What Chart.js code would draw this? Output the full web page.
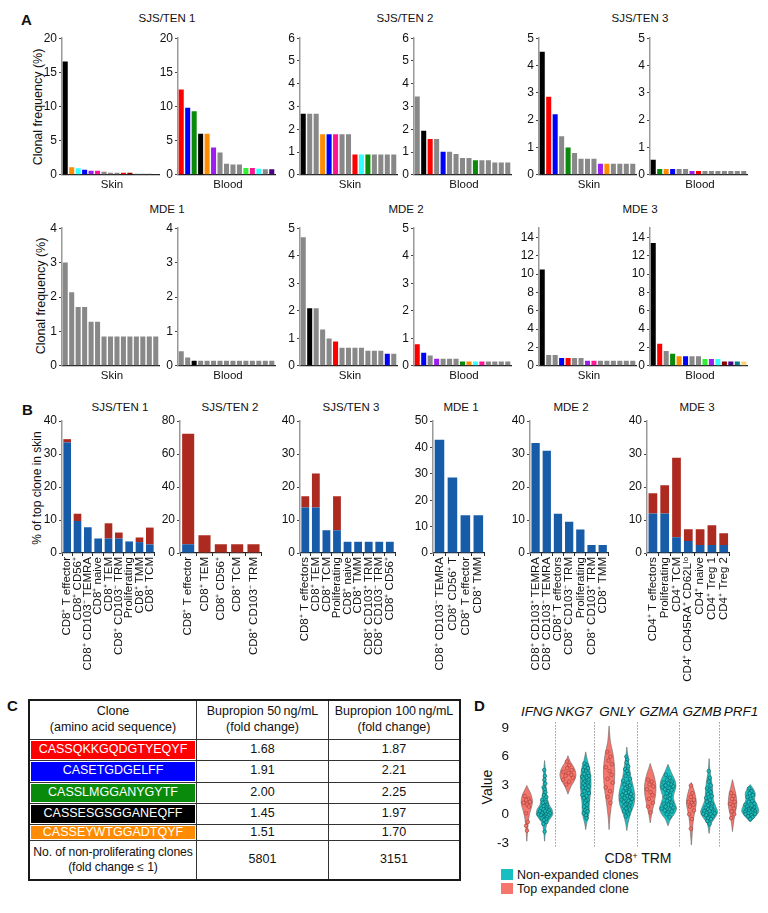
<!DOCTYPE html>
<html lang="en">
<head>
<meta charset="utf-8">
<title>Clonal expansion figure</title>
<script src="https://cdn.jsdelivr.net/npm/chart.js@4.4.1/dist/chart.umd.min.js"></script>
<style>
  html, body { margin: 0; padding: 0; background: #fff; }
  body { position: relative; width: 768px; height: 913px; overflow: hidden;
         font-family: "Liberation Sans", Arial, Helvetica, sans-serif; color: #111; }
  canvas { position: absolute; }
  .lbl { position: absolute; white-space: nowrap; transform: translate(-50%, -50%); font-size: 11.5px; line-height: 1; }
  .rot { transform: translate(-50%, -50%) rotate(-90deg); }
  .letter { position: absolute; font-weight: bold; font-size: 15px; line-height: 1; }
  .gene { font-style: italic; font-size: 13.5px; }
  sup { font-size: 0.62em; vertical-align: 0.5em; line-height: 0; }
  #tbl { position: absolute; left: 28px; top: 699px; width: 433px; border-collapse: collapse;
         border: 2px solid #1a1a1a; font-size: 12.5px; table-layout: fixed; }
  #tbl td { border: 1px solid #333; text-align: center; padding: 0; line-height: 1.25; white-space: nowrap; }
  #tbl td.seq { padding: 1px; }
  #tbl td.seq div { color: #fff; display: flex; align-items: center; justify-content: center; }
  .box { position: absolute; width: 12px; height: 11px; }
</style>
</head>
<body>
<div class="letter" style="left:21px;top:12px">A</div>
<div class="letter" style="left:22px;top:402px">B</div>
<div class="letter" style="left:7px;top:698px">C</div>
<div class="letter" style="left:474px;top:698px">D</div>

<div class="lbl" style="left:167px;top:19px">SJS/TEN 1</div>
<div class="lbl" style="left:405px;top:19px">SJS/TEN 2</div>
<div class="lbl" style="left:640px;top:19px">SJS/TEN 3</div>
<div class="lbl" style="left:167px;top:210px">MDE 1</div>
<div class="lbl" style="left:406px;top:210px">MDE 2</div>
<div class="lbl" style="left:640px;top:210px">MDE 3</div>

<div class="lbl rot" style="left:38px;top:107px;font-size:12.5px">Clonal frequency (%)</div>
<div class="lbl rot" style="left:41px;top:296px;font-size:12.5px">Clonal frequency (%)</div>
<div class="lbl rot" style="left:37px;top:488px;font-size:12px">% of top clone in skin</div>

<div class="lbl" style="left:120px;top:408px">SJS/TEN 1</div>
<div class="lbl" style="left:230px;top:408px">SJS/TEN 2</div>
<div class="lbl" style="left:351px;top:408px">SJS/TEN 3</div>
<div class="lbl" style="left:461px;top:408px">MDE 1</div>
<div class="lbl" style="left:571px;top:408px">MDE 2</div>
<div class="lbl" style="left:697px;top:408px">MDE 3</div>

<div class="lbl gene" style="left:537px;top:712px">IFNG</div>
<div class="lbl gene" style="left:574px;top:712px">NKG7</div>
<div class="lbl gene" style="left:617px;top:712px">GNLY</div>
<div class="lbl gene" style="left:659px;top:712px">GZMA</div>
<div class="lbl gene" style="left:702px;top:712px">GZMB</div>
<div class="lbl gene" style="left:741px;top:712px">PRF1</div>
<div class="lbl rot" style="left:487px;top:787px;font-size:14px">Value</div>
<div class="lbl" style="left:638px;top:858px;font-size:14px">CD8<sup>+</sup> TRM</div>
<div class="box" style="left:501px;top:869px;background:#19bfc0"></div>
<div class="lbl" style="left:517px;top:875px;font-size:12.5px;transform:translate(0,-50%)">Non-expanded clones</div>
<div class="box" style="left:501px;top:883px;background:#f4766d"></div>
<div class="lbl" style="left:517px;top:889px;font-size:12.5px;transform:translate(0,-50%)">Top expanded clone</div>

<table id="tbl"></table>

<script>
// ---- panel A: clonal frequency (%) by clone rank, skin and blood ----
const sjs1Skin = [16.6, 1.1, 0.95, 0.75, 0.6, 0.6, 0.45, 0.3, 0.3, 0.3, 0.3, 0.15, 0.15, 0.15, 0.1];
const sjs1SkinIds = ['K', 'O', 'C', 'B', 'P', 'M', 'G', 'G', 'G', 'R', 'D', 'G', 'G', 'G', 'N'];
const sjs1Blood = [12.5, 9.8, 9.3, 6.0, 6.0, 4.0, 3.25, 1.6, 1.5, 1.5, 1.0, 1.0, 0.9, 0.8, 0.8];
const sjs1BloodIds = ['R', 'B', 'N', 'K', 'O', 'P', 'G', 'G', 'G', 'G', 'L', 'M', 'C', 'G', 'I'];
const sjs2Skin = [2.68, 2.68, 2.68, 1.78, 1.78, 1.78, 1.78, 1.78, 0.89, 0.89, 0.89, 0.89, 0.89, 0.89, 0.89];
const sjs2SkinIds = ['K', 'G', 'G', 'O', 'B', 'M', 'G', 'G', 'R', 'C', 'N', 'G', 'G', 'G', 'G'];
const sjs2Blood = [3.44, 1.94, 1.57, 1.57, 1.01, 1.01, 0.91, 0.74, 0.74, 0.64, 0.64, 0.64, 0.54, 0.54, 0.54];
const sjs2BloodIds = ['G', 'K', 'R', 'G', 'B', 'G', 'G', 'G', 'G', 'N', 'G', 'G', 'G', 'G', 'G'];
const sjs3Skin = [4.5, 2.86, 2.22, 1.41, 1.0, 0.8, 0.59, 0.59, 0.59, 0.4, 0.4, 0.4, 0.4, 0.4, 0.4];
const sjs3SkinIds = ['K', 'R', 'B', 'G', 'N', 'G', 'G', 'G', 'G', 'P', 'O', 'G', 'G', 'G', 'G'];
const sjs3Blood = [0.55, 0.21, 0.21, 0.21, 0.21, 0.21, 0.14, 0.14, 0.14, 0.14, 0.14, 0.14, 0.14, 0.14, 0.14];
const sjs3BloodIds = ['K', 'N', 'O', 'B', 'G', 'G', 'P', 'R', 'G', 'G', 'G', 'G', 'G', 'G', 'G'];
const mde1Skin = [3.0, 2.14, 1.71, 1.71, 1.28, 1.28, 0.85, 0.85, 0.85, 0.85, 0.85, 0.85, 0.85, 0.85, 0.85];
const mde1SkinIds = ['G', 'G', 'G', 'G', 'G', 'G', 'G', 'G', 'G', 'G', 'G', 'G', 'G', 'G', 'G'];
const mde1Blood = [0.42, 0.24, 0.15, 0.15, 0.15, 0.15, 0.15, 0.15, 0.15, 0.15, 0.15, 0.15, 0.15, 0.15, 0.15];
const mde1BloodIds = ['G', 'G', 'K', 'G', 'G', 'G', 'G', 'G', 'G', 'G', 'G', 'G', 'G', 'G', 'G'];
const mde2Skin = [4.67, 2.09, 2.09, 1.32, 0.99, 0.88, 0.66, 0.66, 0.66, 0.66, 0.55, 0.55, 0.55, 0.44, 0.44];
const mde2SkinIds = ['G', 'K', 'G', 'G', 'G', 'R', 'G', 'G', 'G', 'G', 'G', 'G', 'G', 'B', 'G'];
const mde2Blood = [0.78, 0.47, 0.37, 0.26, 0.26, 0.26, 0.26, 0.16, 0.16, 0.16, 0.16, 0.16, 0.16, 0.16, 0.16];
const mde2BloodIds = ['R', 'B', 'G', 'P', 'G', 'G', 'G', 'N', 'O', 'C', 'M', 'G', 'G', 'G', 'G'];
const mde3Skin = [10.5, 1.17, 1.17, 0.84, 0.84, 0.84, 0.84, 0.55, 0.55, 0.55, 0.55, 0.55, 0.55, 0.55, 0.55];
const mde3SkinIds = ['K', 'G', 'G', 'B', 'R', 'G', 'G', 'P', 'M', 'G', 'G', 'G', 'G', 'G', 'G'];
const mde3Blood = [13.4, 2.4, 1.6, 1.3, 1.03, 1.03, 1.03, 1.03, 0.73, 0.73, 0.73, 0.48, 0.48, 0.48, 0.48];
const mde3BloodIds = ['K', 'R', 'G', 'N', 'O', 'B', 'G', 'G', 'L', 'P', 'C', 'D', 'I', 'T', 'Y'];

// tick labels
const ticks20 = [0, 5, 10, 15, 20];
const ticks6 = [0, 1, 2, 3, 4, 5, 6];
const ticks5 = [0, 1, 2, 3, 4, 5];
const ticks4 = [0, 1, 2, 3, 4];
const ticks14 = [0, 2, 4, 6, 8, 10, 12, 14];
const ticks40 = [0, 10, 20, 30, 40];
const ticks80 = [0, 20, 40, 60, 80];
const ticks50 = [0, 10, 20, 30, 40, 50];
const ticksValue = [-3, 0, 3, 6, 9];

// ---- panel B: share of top skin clone by cell subset (two stacked parts) ----
const b1Labels = ['CD8⁺ T effector', 'CD8⁺ CD56⁺', 'CD8⁺ CD103⁻ TEMRA', 'CD8⁺ naive', 'CD8⁺ TEM', 'CD8⁺ CD103⁻ TRM', 'Proliferating', 'CD8⁺ TMM', 'CD8⁺ TCM'];
const b1Blue = [33.5, 9.7, 7.8, 4.4, 4.4, 4.4, 3.5, 3.3, 2.6];
const b1Red = [1.0, 2.2, 0, 0, 4.6, 1.8, 0, 1.4, 5.1];
const b2Labels = ['CD8⁺ T effector', 'CD8⁺ TEM', 'CD8⁺ CD56⁺', 'CD8⁺ TCM', 'CD8⁺ CD103⁻ TRM'];
const b2Blue = [5.3, 0, 0, 0, 0];
const b2Red = [67.0, 10.7, 5.3, 5.3, 5.3];
const b3Labels = ['CD8⁺ T effectors', 'CD8⁺ TEM', 'CD8⁺ TCM', 'Proliferating', 'CD8⁺ naive', 'CD8⁺ TMM', 'CD8⁺ CD103⁺ TRM', 'CD8⁺ CD103⁻ TRM', 'CD8⁺ CD56⁺'];
const b3Blue = [13.8, 13.8, 6.9, 6.9, 3.4, 3.4, 3.4, 3.4, 3.4];
const b3Red = [3.4, 10.3, 0, 10.3, 0, 0, 0, 0, 0];
const b4Labels = ['CD8⁺ CD103⁻ TEMRA', 'CD8⁺ CD56⁺ T', 'CD8⁺ T effector', 'CD8⁺ TMM'];
const b4Blue = [42.9, 28.6, 14.3, 14.3];
const b4Red = [0, 0, 0, 0];
const b5Labels = ['CD8⁺ CD103⁺ TEMRA', 'CD8⁺ CD103⁻ TEMRA', 'CD8⁺ T effectors', 'CD8⁺ CD103⁻ TRM', 'Proliferating', 'CD8⁺ CD103⁺ TRM', 'CD8⁺ TMM'];
const b5Blue = [33.3, 31.0, 11.9, 9.5, 7.1, 2.4, 2.4];
const b5Red = [0, 0, 0, 0, 0, 0, 0];
const b6Labels = ['CD4⁺ T effectors', 'Proliferating', 'CD4⁺ TCM', 'CD4⁺ CD45RA⁺ CD62Lˡᵒ', 'CD4⁺ naive', 'CD4⁺ Treg 1', 'CD4⁺ Treg 2'];
const b6Blue = [12.0, 12.0, 4.8, 3.6, 2.4, 2.4, 2.4];
const b6Red = [6.1, 8.5, 24.1, 3.6, 4.8, 6.0, 3.6];

// ---- panel C: table ----
const cloneSeqs = ['CASSQKKGQDGTYEQYF', 'CASETGDGELFF', 'CASSLMGGANYGYTF', 'CASSESGSGGANEQFF', 'CASSEYWTGGADTQYF'];
const cloneSeqIds = ['R', 'B', 'N', 'K', 'O'];
const fold50 = ['1.68', '1.91', '2.00', '1.45', '1.51'];
const fold100 = ['1.87', '2.21', '2.25', '1.97', '1.70'];
const nonProlif = ['5801', '3151'];

// ---- panel D: violin outlines [value, half width] and cell values ----
const genes = ['IFNG', 'NKG7', 'GNLY', 'GZMA', 'GZMB', 'PRF1'];
const violinTop = [
  [[-2.8, 0], [-2, 0.03], [-1, 0.07], [0, 0.15], [0.7, 0.26], [1.3, 0.32], [2, 0.25], [2.6, 0.1], [3.0, 0]],
  [[2.1, 0], [2.5, 0.08], [3, 0.2], [3.5, 0.36], [4, 0.45], [4.5, 0.42], [5, 0.3], [5.5, 0.13], [6.1, 0]],
  [[-1.6, 0], [-0.5, 0.04], [0.5, 0.1], [1.5, 0.17], [2.5, 0.25], [3.5, 0.3], [4.5, 0.32], [5.5, 0.28], [6.5, 0.2], [7.5, 0.08], [8.5, 0.03], [9.2, 0]],
  [[-0.9, 0], [0, 0.08], [1, 0.2], [2, 0.3], [3, 0.32], [4, 0.22], [4.8, 0.08], [5.3, 0]],
  [[-3.2, 0], [-2.5, 0.03], [-1.5, 0.07], [-0.5, 0.12], [0.5, 0.22], [1.2, 0.28], [2, 0.22], [2.8, 0.1], [3.3, 0]],
  [[-1.8, 0], [-1, 0.05], [0, 0.14], [1, 0.24], [2, 0.2], [2.8, 0.1], [3.6, 0]]
];
const violinRest = [
  [[-2.8, 0], [-2, 0.04], [-1, 0.12], [-0.5, 0.3], [0, 0.46], [0.5, 0.42], [1, 0.26], [2, 0.12], [3, 0.08], [4, 0.06], [5, 0.03], [5.6, 0]],
  [[-1.6, 0], [-1, 0.05], [0, 0.18], [0.5, 0.2], [1, 0.2], [2, 0.26], [3, 0.3], [3.5, 0.3], [4, 0.28], [5, 0.2], [5.6, 0.1], [6.5, 0]],
  [[-1.7, 0], [-1, 0.06], [0, 0.2], [1, 0.4], [2, 0.45], [3, 0.35], [4, 0.22], [5, 0.14], [6, 0.06], [7, 0]],
  [[-1.2, 0], [-0.5, 0.15], [0, 0.35], [0.6, 0.48], [1.2, 0.38], [1.8, 0.3], [2.5, 0.4], [3, 0.45], [3.6, 0.38], [4.3, 0.2], [5.2, 0]],
  [[-2, 0], [-1, 0.1], [-0.3, 0.35], [0.2, 0.48], [0.8, 0.38], [1.5, 0.24], [2.5, 0.2], [3.5, 0.14], [4.5, 0.05], [5.8, 0]],
  [[-0.8, 0], [-0.3, 0.25], [0.3, 0.48], [0.9, 0.4], [1.5, 0.25], [2.2, 0.28], [2.8, 0.12], [3.1, 0]]
];
const cellsTop = [
  [1.9, 1.6, 1.5, 1.3, 1.2, 1.0, 0.8, 0.1, -0.8, -1.2, -1.7],
  [5.5, 5.1, 4.8, 4.6, 4.4, 4.3, 4.1, 4.0, 3.8, 3.6, 3.4, 3.1],
  [6.5, 6.0, 5.6, 5.2, 4.9, 4.5, 4.1, 3.7, 3.3, 2.8, 2.4, 1.8, 1.2],
  [3.6, 3.4, 3.1, 2.9, 2.6, 2.3, 2.0, 1.6, 1.2, 0.8, 0.2],
  [3.0, 2.2, 1.8, 1.5, 1.3, 1.2, 1.0, 0.8, 0.4, 0.0, -0.5, -1.5],
  [2.2, 1.9, 1.6, 1.3, 1.1, 0.9, 0.6, 0.3, 0.0, -0.4]
];
const cellsRest = [
  [4.6, 4.0, 3.6, 3.2, 2.8, 2.6, 2.3, 2.0, 1.8, 1.5, 1.3, 1.2, 1.0, 0.9, 0.8, 0.7, 0.6, 0.5, 0.5, 0.4, 0.3, 0.3, 0.2, 0.1, 0.1, 0.0, 0.0, -0.1, -0.1, -0.2, -0.3, -0.3, -0.4, -0.5, -0.6, -0.8, -1.0, -1.8],
  [5.3, 5.1, 4.9, 4.8, 4.6, 4.5, 4.3, 4.2, 4.0, 3.9, 3.8, 3.7, 3.6, 3.5, 3.4, 3.3, 3.2, 3.1, 3.0, 2.9, 2.8, 2.7, 2.5, 2.4, 2.2, 2.0, 1.9, 1.7, 1.5, 1.4, 1.2, 1.0, 0.8, 0.6, 0.4, 0.3, 0.1, -0.1, -0.4],
  [6.0, 5.7, 5.4, 5.0, 4.7, 4.5, 4.2, 4.0, 3.7, 3.5, 3.3, 3.1, 3.0, 2.8, 2.7, 2.5, 2.4, 2.3, 2.2, 2.1, 2.0, 1.9, 1.8, 1.7, 1.6, 1.5, 1.4, 1.3, 1.2, 1.1, 1.0, 0.9, 0.8, 0.7, 0.6, 0.5, 0.3, 0.2, 0.0, -0.2],
  [4.1, 3.8, 3.6, 3.4, 3.3, 3.2, 3.1, 3.0, 2.9, 2.8, 2.7, 2.6, 2.5, 2.4, 2.2, 2.0, 1.8, 1.6, 1.4, 1.2, 1.1, 1.0, 0.9, 0.8, 0.7, 0.6, 0.5, 0.4, 0.3, 0.2, 0.0, -0.3],
  [4.5, 3.8, 3.4, 3.0, 2.7, 2.5, 2.3, 2.1, 1.9, 1.7, 1.5, 1.3, 1.1, 1.0, 0.9, 0.8, 0.7, 0.6, 0.5, 0.4, 0.35, 0.3, 0.2, 0.15, 0.1, 0.05, 0.0, -0.1, -0.2, -0.3, -0.4, -0.5, -0.7, -1.0],
  [2.7, 2.4, 2.2, 2.0, 1.8, 1.6, 1.4, 1.3, 1.1, 1.0, 0.9, 0.8, 0.7, 0.6, 0.55, 0.5, 0.45, 0.4, 0.35, 0.3, 0.25, 0.2, 0.15, 0.1, 0.05, 0.0, -0.1, -0.2, -0.3, -0.5]
];

const palette = {
  K: '#000000', R: '#ff0000', B: '#0000ff', N: '#0a8a0a', O: '#ff8c00', C: '#33ffff', P: '#9a1ef0',
  M: '#ff1493', G: '#888888', D: '#8b0000', I: '#4b0082', L: '#33ee33', T: '#008080', Y: '#ffd27a'
};
const BLUE = '#175ca8';
const RED = '#ad2a20';

Chart.defaults.font.family = '"Liberation Sans", Arial, Helvetica, sans-serif';
Chart.defaults.color = '#111';
Chart.defaults.animation = false;
Chart.defaults.plugins.legend.display = false;
Chart.defaults.plugins.tooltip.enabled = false;

function addCanvas(left, top, w, h) {
  const c = document.createElement('canvas');
  c.width = w;
  c.height = h;
  c.style.left = left + 'px';
  c.style.top = top + 'px';
  c.style.width = w + 'px';
  c.style.height = h + 'px';
  document.body.appendChild(c);
  return c;
}

function fixedTicks(list) {
  return function (scale) {
    scale.ticks = list.map(function (v) { return { value: v }; });
  };
}

// tick label height/2 + tick padding decides the space Chart.js keeps above and below the plot
function cloneChart(axisX, topY, zeroY, values, ids, max, ticks, name) {
  const yW = 24, plotW = 97, pad = 9;
  const c = addCanvas(axisX - yW, topY - pad, yW + plotW + 2, pad + (zeroY - topY) + pad);
  new Chart(c, {
    type: 'bar',
    data: {
      labels: values.map(function (v, i) { return String(i + 1); }),
      datasets: [{
        data: values,
        backgroundColor: ids.map(function (k) { return palette[k]; }),
        barPercentage: 0.78,
        categoryPercentage: 1
      }]
    },
    options: {
      responsive: false,
      layout: { padding: { top: pad, bottom: pad - 1, left: 0, right: 2 } },
      scales: {
        x: {
          ticks: { display: false },
          grid: { display: false },
          border: { color: '#222', width: 1.2 },
          afterFit: function (s) { s.height = 1; }
        },
        y: {
          min: 0, max: max,
          ticks: { font: { size: 12 }, padding: 2, color: '#111' },
          grid: { drawOnChartArea: false, tickLength: 3, color: '#444' },
          border: { color: '#999', width: 1.5 },
          afterFit: function (s) { s.width = yW; },
          afterBuildTicks: fixedTicks(ticks)
        }
      }
    }
  });
  const t = document.createElement('div');
  t.className = 'lbl';
  t.style.left = (axisX + 50) + 'px';
  t.style.top = (zeroY + 10) + 'px';
  t.textContent = name;
  document.body.appendChild(t);
}

function subsetChart(axisX, plotW, labels, blue, red, max, ticks) {
  const yW = 26, topY = 421, zeroY = 553, xH = 170, pad = 10;
  const c = addCanvas(axisX - yW, topY - pad, yW + plotW + 7, pad + (zeroY - topY) + xH);
  new Chart(c, {
    type: 'bar',
    data: {
      labels: labels,
      datasets: [
        { data: blue, backgroundColor: BLUE, barPercentage: 0.74, categoryPercentage: 1 },
        { data: red, backgroundColor: RED, barPercentage: 0.74, categoryPercentage: 1 }
      ]
    },
    options: {
      responsive: false,
      layout: { padding: { top: pad, bottom: 0, left: 0, right: 7 } },
      scales: {
        x: {
          stacked: true,
          ticks: { minRotation: 90, maxRotation: 90, autoSkip: false, font: { size: 11.5 }, padding: 1, color: '#111' },
          grid: { drawOnChartArea: false, tickLength: 3, color: '#222' },
          border: { color: '#222', width: 1.2 },
          afterFit: function (s) { s.height = xH; }
        },
        y: {
          stacked: true,
          min: 0, max: max,
          ticks: { font: { size: 12 }, padding: 2, color: '#111' },
          grid: { drawOnChartArea: false, tickLength: 3, color: '#444' },
          border: { color: '#999', width: 1.5 },
          afterFit: function (s) { s.width = yW; },
          afterBuildTicks: fixedTicks(ticks)
        }
      }
    }
  });
}

// panel A, first row (SJS/TEN) and second row (MDE)
cloneChart(62, 38, 175, sjs1Skin, sjs1SkinIds, 20, ticks20, 'Skin');
cloneChart(178, 38, 175, sjs1Blood, sjs1BloodIds, 20, ticks20, 'Blood');
cloneChart(300, 38, 175, sjs2Skin, sjs2SkinIds, 6, ticks6, 'Skin');
cloneChart(414, 38, 175, sjs2Blood, sjs2BloodIds, 6, ticks6, 'Blood');
cloneChart(539, 38, 175, sjs3Skin, sjs3SkinIds, 5, ticks5, 'Skin');
cloneChart(650, 38, 175, sjs3Blood, sjs3BloodIds, 5, ticks5, 'Blood');
cloneChart(62, 228, 366, mde1Skin, mde1SkinIds, 4, ticks4, 'Skin');
cloneChart(178, 228, 366, mde1Blood, mde1BloodIds, 4, ticks4, 'Blood');
cloneChart(300, 228, 366, mde2Skin, mde2SkinIds, 5, ticks5, 'Skin');
cloneChart(414, 228, 366, mde2Blood, mde2BloodIds, 5, ticks5, 'Blood');
cloneChart(539, 228, 366, mde3Skin, mde3SkinIds, 15, ticks14, 'Skin');
cloneChart(650, 228, 366, mde3Blood, mde3BloodIds, 15, ticks14, 'Blood');

// panel B
subsetChart(62, 96, b1Labels, b1Blue, b1Red, 40, ticks40);
subsetChart(180, 82, b2Labels, b2Blue, b2Red, 80, ticks80);
subsetChart(300, 98, b3Labels, b3Blue, b3Red, 40, ticks40);
subsetChart(433, 54, b4Labels, b4Blue, b4Red, 50, ticks50);
subsetChart(530, 81, b5Labels, b5Blue, b5Red, 40, ticks40);
subsetChart(647, 85, b6Labels, b6Blue, b6Red, 40, ticks40);

// panel C
(function () {
  const tbl = document.getElementById('tbl');
  const rowH = [39, 21, 22, 21, 21, 16, 39];
  function row(h, cells) {
    const tr = document.createElement('tr');
    tr.style.height = h + 'px';
    cells.forEach(function (cell) { tr.appendChild(cell); });
    tbl.appendChild(tr);
  }
  function td(html) {
    const d = document.createElement('td');
    d.innerHTML = html;
    return d;
  }
  const head = [td('Clone<br>(amino acid sequence)'), td('Bupropion 50&#8201;ng/mL<br>(fold change)'), td('Bupropion 100&#8201;ng/mL<br>(fold change)')];
  head[0].style.width = '166px';
  head[1].style.width = '131px';
  row(rowH[0], head);
  cloneSeqs.forEach(function (seq, i) {
    const s = document.createElement('td');
    s.className = 'seq';
    const inner = document.createElement('div');
    inner.style.background = palette[cloneSeqIds[i]];
    inner.style.height = (rowH[i + 1] - 3) + 'px';
    inner.textContent = seq;
    s.appendChild(inner);
    row(rowH[i + 1], [s, td(fold50[i]), td(fold100[i])]);
  });
  const last = td('No. of non-proliferating clones<br>(fold change &le; 1)');
  last.style.fontSize = '12.2px';
  last.style.letterSpacing = '-0.1px';
  row(rowH[6], [last, td(nonProlif[0]), td(nonProlif[1])]);
})();

// panel D
(function () {
  const redX = 0.47, tealX = 1.32, groupStep = 1.97, widthScale = 0.85;
  const dividerAt = [1.82, 3.71, 5.74, 7.75, 9.66];
  const jitter = [-0.55, 0.35, -0.15, 0.65, -0.7, 0.1, 0.5, -0.35, 0.8, -0.85, 0.25, -0.5, 0.6, 0.0, -0.25, 0.45];

  function halfWidth(profile, y) {
    for (let i = 1; i < profile.length; i++) {
      if (y <= profile[i][0]) {
        const a = profile[i - 1], b = profile[i];
        return a[1] + (b[1] - a[1]) * (y - a[0]) / (b[0] - a[0]);
      }
    }
    return 0;
  }
  function outline(cx, profile) {
    const right = profile.map(function (p) { return { x: cx + p[1] * widthScale, y: p[0] }; });
    const left = profile.slice().reverse().map(function (p) { return { x: cx - p[1] * widthScale, y: p[0] }; });
    return right.concat(left);
  }
  function cells(cx, profile, values) {
    return values.map(function (v, i) {
      return { x: cx + jitter[i % jitter.length] * halfWidth(profile, v) * widthScale * 0.85, y: v };
    });
  }

  const datasets = [];
  genes.forEach(function (g, i) {
    const cr = redX + groupStep * i;
    const ct = tealX + groupStep * i;
    datasets.push({ data: outline(cr, violinTop[i]), showLine: true, fill: 'shape', tension: 0.3,
      backgroundColor: '#f4766d', borderColor: '#666', borderWidth: 0.6, pointRadius: 0, order: 2 });
    datasets.push({ data: outline(ct, violinRest[i]), showLine: true, fill: 'shape', tension: 0.3,
      backgroundColor: '#19bfc0', borderColor: '#666', borderWidth: 0.6, pointRadius: 0, order: 2 });
    datasets.push({ data: cells(cr, violinTop[i], cellsTop[i]), pointRadius: 1.8, pointBorderWidth: 0.6,
      backgroundColor: '#f4766d', borderColor: '#a33a33', order: 1 });
    datasets.push({ data: cells(ct, violinRest[i], cellsRest[i]), pointRadius: 1.8, pointBorderWidth: 0.6,
      backgroundColor: '#19bfc0', borderColor: '#0c5a5a', order: 1 });
  });

  const dividers = {
    id: 'dividers',
    beforeDatasetsDraw: function (chart) {
      const ctx = chart.ctx, area = chart.chartArea, xs = chart.scales.x;
      ctx.save();
      ctx.strokeStyle = '#9a9a9a';
      ctx.lineWidth = 1;
      ctx.setLineDash([1.5, 1.5]);
      dividerAt.forEach(function (v) {
        const px = Math.round(xs.getPixelForValue(v)) + 0.5;
        ctx.beginPath();
        ctx.moveTo(px, area.top);
        ctx.lineTo(px, area.bottom);
        ctx.stroke();
      });
      ctx.restore();
    }
  };

  // label height (16.2) sets the top and bottom room, so the canvas starts 16 px above the plot
  const c = addCanvas(477, 706, 291, 158);
  new Chart(c, {
    type: 'scatter',
    data: { datasets: datasets },
    options: {
      responsive: false,
      layout: { padding: { top: 16, bottom: 16, left: 0, right: 0 } },
      scales: {
        x: { type: 'linear', min: 0, max: 11.8, display: false },
        y: {
          min: -3.5, max: 9.6,
          ticks: { font: { size: 13.5 }, padding: 8, color: '#111' },
          grid: { display: false, drawTicks: false },
          border: { display: false },
          afterFit: function (s) { s.width = 40; },
          afterBuildTicks: fixedTicks(ticksValue)
        }
      }
    },
    plugins: [dividers]
  });
})();
</script>
</body>
</html>
